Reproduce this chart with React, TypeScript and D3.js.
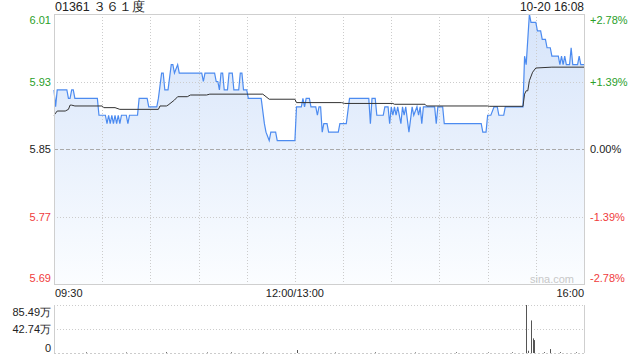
import React from "react";
import * as d3 from "d3";

// ---- data ----
const prevClose = 5.85;
const priceTicks = [6.01, 5.93, 5.85, 5.77, 5.69];
const pctTicks = ["+2.78%", "+1.39%", "0.00%", "-1.39%", "-2.78%"];
const volTicks = ["85.49万", "42.74万", "0"];
const timeLabels = ["09:30", "12:00/13:00", "16:00"];

// price line (minute index from 09:30, lunch removed; 330 = 16:00)
const priceMin = [0,1,2,8,9,10,11,12,13,27,28,30,32,33,34,35,36,37,38,39,40,41,42,45,46,47,52,53,58,59,64,65,67,68,69,71,73,74,75,77,78,92,93,94,100,101,102,103,104,105,106,108,109,111,112,115,116,117,118,120,121,129,131,132,134,135,138,139,150,151,154,155,156,157,159,160,163,164,165,166,167,168,170,171,177,178,182,184,196,197,198,200,201,205,206,208,209,210,211,212,213,214,216,217,218,219,221,223,224,226,227,228,229,230,237,238,239,242,243,266,267,269,270,272,274,276,277,280,281,292,293,294,296,297,300,301,303,304,306,307,309,310,314,315,316,317,318,319,321,322,323,326,327,328,330];
const priceVal = [5.92,5.90,5.92,5.92,5.91,5.91,5.92,5.92,5.91,5.91,5.89,5.89,5.89,5.88,5.89,5.88,5.89,5.88,5.89,5.88,5.89,5.88,5.89,5.89,5.88,5.89,5.89,5.91,5.91,5.90,5.90,5.91,5.94,5.94,5.92,5.92,5.95,5.95,5.94,5.95,5.94,5.94,5.93,5.94,5.94,5.93,5.93,5.92,5.94,5.94,5.92,5.92,5.94,5.94,5.92,5.92,5.94,5.94,5.92,5.92,5.91,5.91,5.88,5.87,5.86,5.87,5.87,5.86,5.86,5.90,5.90,5.91,5.90,5.91,5.91,5.90,5.90,5.89,5.90,5.90,5.87,5.88,5.88,5.87,5.87,5.88,5.88,5.91,5.91,5.88,5.91,5.91,5.89,5.89,5.90,5.90,5.88,5.90,5.89,5.90,5.89,5.90,5.88,5.90,5.89,5.90,5.87,5.90,5.89,5.90,5.89,5.90,5.88,5.90,5.90,5.88,5.90,5.90,5.88,5.88,5.87,5.87,5.89,5.89,5.90,5.90,5.89,5.89,5.90,5.90,5.96,5.95,6.01,6.00,6.00,5.99,5.99,5.98,5.98,5.97,5.97,5.96,5.96,5.95,5.96,5.95,5.96,5.95,5.95,5.97,5.95,5.95,5.96,5.95,5.95];

// average price line
const avgMin = [0,2,7,9,10,11,13,30,31,38,41,65,66,70,71,75,77,83,85,95,97,130,132,134,150,151,179,181,211,212,231,232,270,271,292,293,294,295,296,298,300,310,330];
const avgVal = [5.890,5.895,5.895,5.897,5.902,5.902,5.901,5.901,5.899,5.899,5.897,5.897,5.901,5.901,5.902,5.908,5.912,5.912,5.914,5.914,5.915,5.915,5.912,5.909,5.909,5.905,5.905,5.904,5.904,5.903,5.903,5.901,5.901,5.9006,5.9006,5.915,5.919,5.919,5.931,5.941,5.946,5.947,5.947];

// volume (万)
const volMin = [20,45,70,95,110,130,151,175,200,225,250,270,285,294,295,297,298,299,305,309,315,325];
const volVal = [1.2,1.0,1.5,1.0,1.2,1.0,5.3,1.0,1.2,1.0,1.3,1.0,1.2,85.49,4,58,26,23,1.5,7,1.5,1.2];

const W = 640, H = 360;
const L = 54, R = 584, T = 14, B = 284;
const VT = 305, VB = 353;
const font = "'Liberation Sans', Arial, sans-serif";
const green = "#2aa02a", red = "#f03c3c";

export default function App() {
  const x = d3.scaleLinear().domain([0, 330]).range([L, R]);
  const y = d3.scaleLinear().domain([5.69, 6.01]).range([B, T]);
  const yv = d3.scaleLinear().domain([0, 85.49]).range([VB, VT]);

  const pts = priceMin.map((m, i) => [m, priceVal[i]] as [number, number]);
  const line = d3.line<[number, number]>().x(d => x(d[0])).y(d => y(d[1]));
  const area = d3.area<[number, number]>().x(d => x(d[0])).y0(B).y1(d => y(d[1]));
  const avgPts = avgMin.map((m, i) => [m, avgVal[i]] as [number, number]);

  const colorFor = (i: number) => (i < 2 ? green : i === 2 ? "#222" : red);
  const labelY = (i: number) => {
    const v = y(priceTicks[i]);
    return i === 0 ? v + 6 : i === priceTicks.length - 1 ? v - 6 : v;
  };
  const vGrid = d3.range(1, 11).map(k => x(k * 30));

  return (
    <svg width={W} height={H} style={{ position: "absolute", left: 0, top: 0 }} fontFamily={font}>
      <defs>
        <linearGradient id="fillG" x1="0" y1="0" x2="0" y2="1">
          <stop offset="0" stopColor="#d6e4fa" />
          <stop offset="1" stopColor="#fbfdff" />
        </linearGradient>
      </defs>
      <rect width={W} height={H} fill="#fff" />
      <text x={L + 1} y={7} dominantBaseline="central" fontSize={12.5} fill="#222">01361 ３６１度</text>
      <text x={R} y={7} dominantBaseline="central" textAnchor="end" fontSize={12} fill="#222">10-20 16:08</text>

      {/* area + lines */}
      <path d={area(pts) || ""} fill="url(#fillG)" />
      {/* grid */}
      {priceTicks.slice(1, 4).map((p, i) => (
        <line key={"h" + i} x1={L} x2={R} y1={Math.round(y(p)) + 0.5} y2={Math.round(y(p)) + 0.5}
          stroke={p === prevClose ? "#aaa" : "#ccc"} strokeDasharray={p === prevClose ? "4,2" : "1,2"} />
      ))}
      {vGrid.map((gx, i) => (
        <line key={"v" + i} x1={Math.round(gx) + 0.5} x2={Math.round(gx) + 0.5} y1={T} y2={B} stroke="#ccc" strokeDasharray="1,2" />
      ))}
      <path d={line(pts) || ""} fill="none" stroke="#4c8bf0" strokeWidth={1.2} />
      <path d={line(avgPts) || ""} fill="none" stroke="#333" strokeWidth={1} />
      <rect x={L + 0.5} y={T + 0.5} width={R - L} height={B - T} fill="none" stroke="#cfcfcf" />
      <text x={574} y={279} textAnchor="end" dominantBaseline="central" fontSize={11} fill="#c8c8c8">sina.com</text>

      {priceTicks.map((p, i) => (
        <text key={"l" + i} x={51} y={labelY(i)} textAnchor="end" dominantBaseline="central" fontSize={11} fill={colorFor(i)}>{p.toFixed(2)}</text>
      ))}
      {pctTicks.map((t, i) => (
        <text key={"r" + i} x={590} y={labelY(i)} dominantBaseline="central" fontSize={11} fill={colorFor(i)}>{t}</text>
      ))}
      <text x={L + 1} y={293} dominantBaseline="central" fontSize={11} fill="#222">{timeLabels[0]}</text>
      <text x={x(150)} y={293} textAnchor="middle" dominantBaseline="central" fontSize={11} fill="#222">{timeLabels[1]}</text>
      <text x={R} y={293} textAnchor="end" dominantBaseline="central" fontSize={11} fill="#222">{timeLabels[2]}</text>

      {/* volume */}
      <line x1={L} x2={R} y1={VT + 0.5} y2={VT + 0.5} stroke="#ccc" strokeDasharray="1,2" />
      <line x1={L} x2={R} y1={Math.round(yv(42.745)) + 0.5} y2={Math.round(yv(42.745)) + 0.5} stroke="#ccc" strokeDasharray="1,2" />
      <line x1={L} x2={R} y1={VB + 0.5} y2={VB + 0.5} stroke="#ccc" strokeDasharray="2,2" />
      <line x1={L + 0.5} x2={L + 0.5} y1={VT} y2={VB} stroke="#cfcfcf" />
      <line x1={R + 0.5} x2={R + 0.5} y1={VT} y2={VB} stroke="#cfcfcf" />
      {volMin.map((m, i) => (
        <line key={"b" + i} x1={Math.round(x(m)) + 0.5} x2={Math.round(x(m)) + 0.5} y1={VB} y2={yv(volVal[i])} stroke="#555" strokeWidth={1} />
      ))}
      {volTicks.map((t, i) => {
        const vy = [yv(85.49) + 7, yv(42.745), yv(0) - 5][i];
        return <text key={"vt" + i} x={51} y={vy} textAnchor="end" dominantBaseline="central" fontSize={11} fill="#222">{t}</text>;
      })}
    </svg>
  );
}
